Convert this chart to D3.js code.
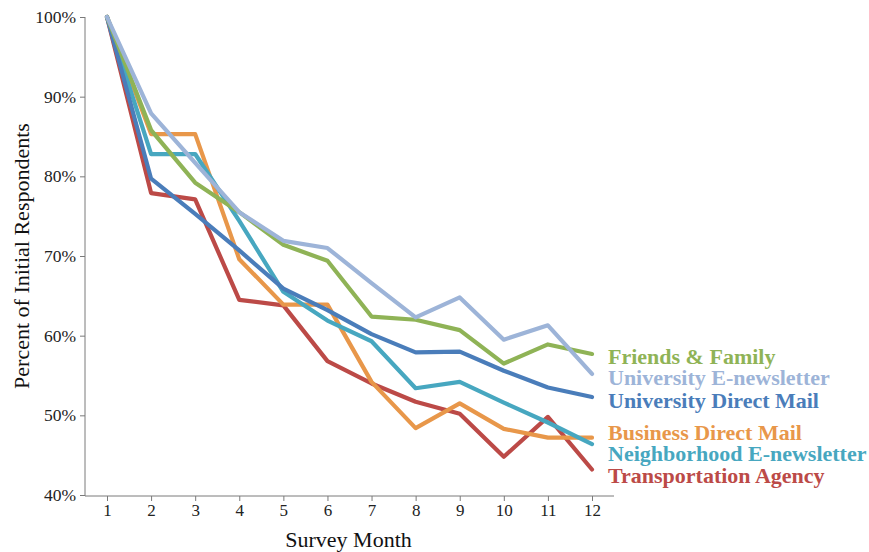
<!DOCTYPE html>
<html>
<head>
<meta charset="utf-8">
<script src="https://cdn.jsdelivr.net/npm/d3@7"></script>
<style>
  html, body { margin: 0; padding: 0; background: #fff; }
  svg { display: block; }
  text { font-family: "Liberation Serif", "Times New Roman", serif; }
</style>
</head>
<body>
<svg id="chart" width="869" height="552"></svg>
<script>
const months = [1, 2, 3, 4, 5, 6, 7, 8, 9, 10, 11, 12];
const yTicks = [0.4, 0.5, 0.6, 0.7, 0.8, 0.9, 1.0];
const seriesNames = [
  "Friends & Family",
  "University E-newsletter",
  "University Direct Mail",
  "Business Direct Mail",
  "Neighborhood E-newsletter",
  "Transportation Agency"
];
const friendsFamily    = [100, 85.8, 79.2, 75.5, 71.4, 69.4, 62.4, 62.0, 60.7, 56.5, 58.9, 57.7];
const uniENewsletter   = [100, 87.9, 81.7, 75.5, 71.9, 71.0, 66.6, 62.3, 64.8, 59.5, 61.3, 55.2];
const uniDirectMail    = [100, 79.7, 75.3, 70.7, 65.9, 63.2, 60.2, 57.9, 58.0, 55.6, 53.5, 52.3];
const bizDirectMail    = [100, 85.3, 85.3, 69.6, 63.9, 63.9, 54.2, 48.4, 51.5, 48.3, 47.2, 47.2];
const neighENewsletter = [100, 82.8, 82.8, 74.4, 65.5, 61.9, 59.3, 53.4, 54.2, 51.6, 49.1, 46.4];
const transportAgency  = [100, 77.9, 77.1, 64.5, 63.8, 56.8, 54.0, 51.7, 50.2, 44.8, 49.8, 43.2];

const colors = ["#8FB356", "#9DB4D8", "#4A7DBA", "#E8974A", "#47A7C0", "#BC4A47"];
const values = [friendsFamily, uniENewsletter, uniDirectMail, bizDirectMail, neighENewsletter, transportAgency];
const series = seriesNames.map((name, i) => ({ name, color: colors[i], values: values[i].map(v => v / 100) }));
// draw order (light blue on top)
const drawOrder = [5, 3, 4, 2, 0, 1];

const svg = d3.select("#chart");
const mLeft = 85, mRight = 614, mTop = 17, mBottom = 495;
const x = d3.scaleLinear().domain([1, 12]).range([107, 592]);
const y = d3.scaleLinear().domain([0.4, 1.0]).range([mBottom, mTop]);

// axes
const axisColor = "#7a7a7a";
const yAxis = d3.axisLeft(y).tickValues(yTicks).tickFormat(d3.format(".0%")).tickSize(5).tickSizeOuter(0);
const gy = svg.append("g").attr("transform", `translate(${mLeft},0)`).call(yAxis);
gy.select(".domain").attr("stroke", axisColor).attr("d", `M0,${mTop}V${mBottom + 1}`);
gy.selectAll(".tick line").attr("stroke", axisColor);
gy.selectAll(".tick text").attr("font-family", "Liberation Serif, serif").attr("font-size", 17.5).attr("fill", "#222").attr("x", -9);

const xAxis = d3.axisBottom(x).tickValues(months).tickFormat(d3.format("d")).tickSize(5).tickSizeOuter(0);
const gx = svg.append("g").attr("transform", `translate(0,${mBottom + 1})`).call(xAxis);
gx.select(".domain").attr("stroke", axisColor).attr("d", `M${mLeft},0H${mRight}`);
gx.selectAll(".tick line").attr("stroke", axisColor);
gx.selectAll(".tick text").attr("font-family", "Liberation Serif, serif").attr("font-size", 17).attr("fill", "#222").attr("y", 8);

// axis titles
svg.append("text").attr("x", (mLeft + mRight) / 2 - 1).attr("y", 547).attr("text-anchor", "middle")
  .attr("font-size", 22).attr("fill", "#111").text("Survey Month");
svg.append("text").attr("transform", `translate(29,${(mTop + mBottom) / 2}) rotate(-90)`).attr("text-anchor", "middle")
  .attr("font-size", 22).attr("fill", "#111").text("Percent of Initial Respondents");

// lines
const line = d3.line().x((d, i) => x(months[i])).y(d => y(d));
svg.append("g").selectAll("path").data(drawOrder.map(i => series[i])).join("path")
  .attr("d", d => line(d.values))
  .attr("fill", "none").attr("stroke", d => d.color).attr("stroke-width", 4.2)
  .attr("stroke-linejoin", "round").attr("stroke-linecap", "round");

// end labels with simple relaxation to avoid overlap
const labels = series.map(s => ({ s, y: y(s.values[s.values.length - 1]) }));
labels.sort((a, b) => a.y - b.y);
const gap = 21.5;
for (let iter = 0; iter < 200; iter++) {
  for (let i = 1; i < labels.length; i++) {
    const d = labels[i].y - labels[i - 1].y;
    if (d < gap) { const m = (gap - d) / 2; labels[i].y += m; labels[i - 1].y -= m; }
  }
}
svg.append("g").selectAll("text").data(labels).join("text")
  .attr("x", 608).attr("y", d => d.y + 3).attr("dy", "0.35em")
  .attr("font-size", 22).attr("font-weight", "bold").attr("fill", d => d.s.color)
  .text(d => d.s.name);
</script>
</body>
</html>
